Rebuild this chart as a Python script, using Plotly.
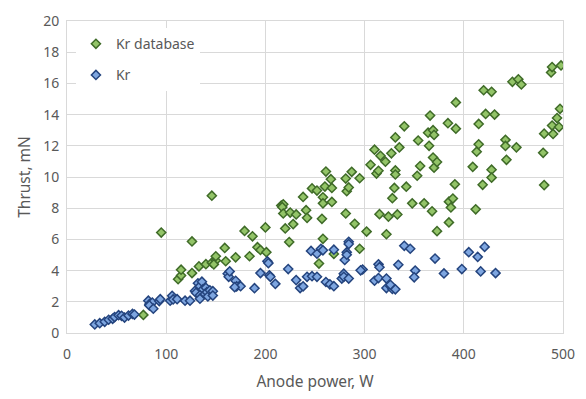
import plotly.graph_objects as go

# Kr database (green)
db_power = [77, 95, 112, 115, 115, 126, 126, 133, 140, 146, 146, 150, 150, 148, 159, 160, 170, 179, 184, 187,
            192, 195, 200, 201, 216, 218, 217, 218, 220, 224, 225, 228, 231, 238, 241, 242, 247, 252, 254, 257,
            258, 258, 258, 260, 261, 266, 267, 267, 269, 281, 281, 282, 284, 287, 290, 295, 295, 302, 306, 310,
            312, 314, 315, 316, 321, 322, 324, 327, 328, 330, 331, 331, 331, 333, 335, 340, 342, 348, 353, 354,
            356, 360, 364, 365, 366, 368, 369, 369, 370, 370, 373, 373, 384, 385, 385, 387, 389, 391, 392, 392,
            409, 412, 413, 415, 415, 419, 420, 422, 428, 428, 428, 431, 442, 442, 443, 449, 453, 455, 458, 480,
            481, 481, 488, 489, 489, 490, 494, 496, 497, 498]
db_thrust = [1.16, 6.44, 3.45, 3.68, 4.06, 3.84, 5.87, 4.27, 4.41, 4.51, 8.8, 4.65, 4.92, 4.4, 5.45, 4.6, 4.85, 6.54, 4.92, 6.2,
             5.5, 5.32, 6.77, 5.18, 8.17, 8.25, 8.07, 7.66, 6.7, 5.83, 7.72, 6.98, 7.6, 8.72, 7.87, 7.38, 9.27, 9.13, 4.45, 7.32,
             6.04, 8.7, 8.31, 9.39, 10.35, 9.86, 9.3, 8.4, 5.07, 9.9, 7.66, 9.09, 9.33, 10.33, 7.0, 9.92, 5.4, 6.5, 10.78, 11.75,
             10.22, 10.4, 7.62, 11.36, 10.98, 6.33, 7.46, 11.52, 8.64, 9.3, 10.42, 10.16, 12.54, 7.6, 11.9, 13.25, 9.38, 8.31, 10.08, 12.34,
             10.7, 8.31, 12.84, 12.0, 13.94, 7.8, 11.25, 13.0, 10.6, 12.7, 10.96, 6.53, 13.45, 7.09, 8.42, 8.05, 8.62, 9.53, 13.1, 14.78,
             10.65, 7.93, 11.62, 12.1, 13.4, 9.5, 15.56, 14.04, 15.46, 10.47, 9.96, 14.0, 12.38, 11.99, 11.1, 16.1, 11.9, 16.26, 15.93, 11.55,
             9.48, 12.78, 16.7, 17.05, 13.3, 12.76, 13.78, 13.2, 14.37, 17.15]

# Kr (blue)
kr_power = [28, 33, 38, 42, 46, 48, 52, 55, 58, 62, 66, 68,
            82, 83, 86, 83, 87, 93, 94, 104, 106, 107, 111, 119, 124,
            129, 130, 132, 134, 136, 137, 140, 134, 134, 139, 141, 142, 144, 147, 147,
            162, 163, 164, 170, 171, 175, 169, 189, 195, 204, 205, 210, 202, 203,
            223, 231, 235, 238, 242, 247, 252, 261, 265, 269,
            246, 252, 256, 258, 269, 277, 279, 279, 284, 280, 282, 282, 284, 284, 298, 296,
            310, 314, 322, 314, 315, 322, 326, 328, 331, 326,
            334, 340, 346, 351, 350, 371, 380, 398, 405, 414, 421, 417, 432]
kr_thrust = [0.55, 0.63, 0.72, 0.85, 0.91, 1.02, 1.14, 1.1, 0.99, 1.12, 1.22, 1.18,
             2.07, 1.85, 1.95, 1.77, 1.56, 2.05, 2.17, 2.07, 2.38, 2.15, 2.17, 2.07, 2.07,
             2.7, 2.58, 3.19, 3.0, 3.29, 2.8, 2.9, 2.42, 2.2, 2.5, 2.62, 2.34, 2.74, 2.68, 2.4,
             3.8, 3.6, 3.95, 3.35, 2.99, 3.0, 2.94, 2.87, 3.84, 3.7, 3.6, 3.15, 4.6, 4.48,
             4.1, 3.39, 2.88, 2.99, 3.6, 3.64, 3.6, 3.27, 3.12, 3.0,
             5.26, 5.08, 5.4, 5.3, 5.34, 3.49, 3.8, 3.6, 3.49, 4.68, 5.18, 5.02, 5.85, 5.7, 4.07, 4.02,
             3.35, 3.52, 3.49, 4.4, 4.22, 2.88, 3.0, 2.82, 2.8, 3.09,
             4.37, 5.59, 5.4, 4.0, 3.57, 4.77, 3.82, 4.1, 5.18, 4.88, 5.52, 3.95, 3.84]

x_ticks = [0, 100, 200, 300, 400, 500]
y_ticks = [0, 2, 4, 6, 8, 10, 12, 14, 16, 18, 20]

FONT = "Noto Sans"
GREY = "#595959"

fig = go.Figure()
fig.add_trace(go.Scatter(
    x=db_power, y=db_thrust, mode="markers", name="Kr database",
    legendgroup="a",
    marker=dict(symbol="diamond", size=7, color="#93c468",
                line=dict(color="#3f6b28", width=1.5)),
))
fig.add_trace(go.Scatter(
    x=kr_power, y=kr_thrust, mode="markers", name="Kr",
    legendgroup="b",
    marker=dict(symbol="diamond", size=7, color="#7ea6e0",
                line=dict(color="#24447e", width=1.5)),
))

fig.update_layout(
    width=586, height=399,
    margin=dict(l=67, r=23, t=11, b=60),
    paper_bgcolor="white", plot_bgcolor="white",
    font=dict(family=FONT, size=14, color=GREY),
    legend=dict(x=0.018, y=0.977, xanchor="left", yanchor="top",
                bgcolor="white", font=dict(size=14, color=GREY),
                traceorder="grouped", tracegroupgap=10,
                itemwidth=30),
    showlegend=True,
)
fig.update_xaxes(
    range=[0, 500], tickvals=x_ticks, ticktext=[str(v) for v in x_ticks],
    showgrid=True, gridcolor="#d9d9d9", gridwidth=1,
    showline=True, linecolor="#d9d9d9", linewidth=1, mirror=True,
    zeroline=False, ticks="", tickfont=dict(size=14, color=GREY),
    ticklabelstandoff=8,
    title=dict(text="Anode power, W", font=dict(size=15.5, color=GREY), standoff=14),
)
fig.update_yaxes(
    range=[0, 20], tickvals=y_ticks, ticktext=[str(v) for v in y_ticks],
    showgrid=True, gridcolor="#d9d9d9", gridwidth=1,
    showline=True, linecolor="#d9d9d9", linewidth=1, mirror=True,
    zeroline=False, ticks="", tickfont=dict(size=14, color=GREY),
    ticklabelstandoff=4,
    title=dict(text="Thrust, mN", font=dict(size=15.5, color=GREY), standoff=8),
)

fig.write_html("out.html")
